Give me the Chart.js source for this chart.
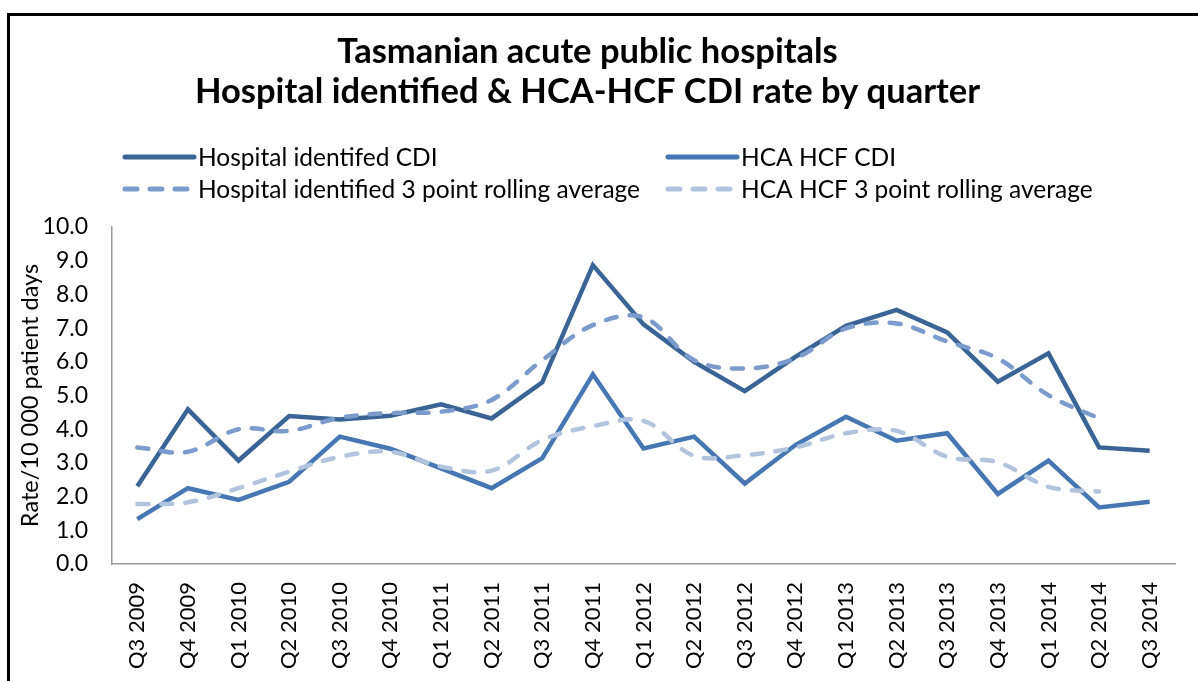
<!DOCTYPE html>
<html>
<head>
<meta charset="utf-8">
<script src="https://cdn.jsdelivr.net/npm/chart.js@4.4.0/dist/chart.umd.min.js"></script>
<style>
  html, body { margin: 0; padding: 0; background: #fff; }
  #wrap { position: relative; width: 1198px; height: 681px; overflow: hidden; }
  #frame { position: absolute; left: 7px; top: 13px; right: -10px; bottom: -10px;
           border-top: 3px solid #000; border-left: 3px solid #000; pointer-events: none; }
</style>
</head>
<body>
<div id="wrap">
  <canvas id="cdiChart" width="1198" height="681"></canvas>
  <div id="frame"></div>
</div>
<script>
const quarters = ['Q3 2009', 'Q4 2009', 'Q1 2010', 'Q2 2010', 'Q3 2010', 'Q4 2010', 'Q1 2011',
    'Q2 2011', 'Q3 2011', 'Q4 2011', 'Q1 2012', 'Q2 2012', 'Q3 2012', 'Q4 2012', 'Q1 2013',
    'Q2 2013', 'Q3 2013', 'Q4 2013', 'Q1 2014', 'Q2 2014', 'Q3 2014'];

const hospitalCdi = [2.31, 4.59, 3.07, 4.39, 4.29, 4.40, 4.74, 4.32, 5.39, 8.87, 7.11,
    6.00, 5.13, 6.15, 7.07, 7.54, 6.87, 5.41, 6.25, 3.46, 3.36];
const hcaHcfCdi = [1.33, 2.25, 1.90, 2.44, 3.78, 3.42, 2.84, 2.25, 3.14, 5.63, 3.43,
    3.78, 2.39, 3.53, 4.37, 3.66, 3.88, 2.08, 3.07, 1.68, 1.85];
const hospitalAvg = [3.46, 3.33, 4.00, 3.95, 4.34, 4.48, 4.52, 4.87, 6.05, 7.09, 7.32,
    6.05, 5.80, 6.10, 6.99, 7.14, 6.60, 6.10, 5.01, 4.32, null];
const hcaHcfAvg = [1.78, 1.83, 2.25, 2.74, 3.18, 3.33, 2.89, 2.77, 3.68, 4.09, 4.25,
    3.21, 3.23, 3.46, 3.88, 3.95, 3.18, 3.02, 2.29, 2.15, null];

const yTicks = [0, 1, 2, 3, 4, 5, 6, 7, 8, 9, 10];

const FONT = 'Lato, "Open Sans", sans-serif';

// legend drawn in two columns like the original
const legendPlugin = {
    id: 'twoColLegend',
    afterDraw(chart) {
        const ctx = chart.ctx;
        const pos = [[122, 157], [665, 157], [122, 189], [665, 189]];
        ctx.save();
        ctx.font = '24.5px ' + FONT;
        ctx.textBaseline = 'middle';
        ctx.fillStyle = '#000';
        chart.data.datasets.forEach(ds => {
            const [x, y] = pos[ds.legendSlot];
            ctx.beginPath();
            ctx.strokeStyle = ds.borderColor;
            ctx.lineWidth = 5;
            ctx.lineCap = 'round';
            ctx.setLineDash(ds.borderDash.length ? [12, 13] : []);
            ctx.moveTo(x + 3, y);
            ctx.lineTo(x + 72, y);
            ctx.stroke();
            ctx.setLineDash([]);
            ctx.fillText(ds.label, x + 76, y + 1);
        });
        ctx.restore();
    }
};

const ctx = document.getElementById('cdiChart').getContext('2d');
const cdiChart = new Chart(ctx, {
    type: 'line',
    data: {
        labels: quarters,
        datasets: [{
            label: 'Hospital identified 3 point rolling average',
            data: hospitalAvg,
            borderColor: '#7a9bcb',
            borderWidth: 4.5,
            borderDash: [11, 13],
            borderCapStyle: 'round',
            tension: 0.35,
            legendSlot: 2
        }, {
            label: 'HCA HCF 3 point rolling average',
            data: hcaHcfAvg,
            borderColor: '#b2c3de',
            borderWidth: 4.5,
            borderDash: [11, 13],
            borderCapStyle: 'round',
            tension: 0.35,
            legendSlot: 3
        }, {
            label: 'Hospital identifed CDI',
            data: hospitalCdi,
            borderColor: '#3a6496',
            borderWidth: 4.5,
            borderDash: [],
            borderJoinStyle: 'miter',
            tension: 0,
            legendSlot: 0
        }, {
            label: 'HCA HCF CDI',
            data: hcaHcfCdi,
            borderColor: '#4677b2',
            borderWidth: 4.5,
            borderDash: [],
            borderJoinStyle: 'miter',
            tension: 0,
            legendSlot: 1
        }]
    },
    options: {
        responsive: false,
        animation: false,
        devicePixelRatio: 1,
        elements: { point: { radius: 0, hoverRadius: 0 } },
        layout: { padding: { left: 0, right: 23, top: 0, bottom: 0 } },
        plugins: {
            legend: { display: false },
            tooltip: { enabled: false },
            title: {
                display: true,
                text: ['Tasmanian acute public hospitals', 'Hospital identified & HCA-HCF CDI rate by quarter'],
                color: '#000',
                font: { family: FONT, size: 34.5, weight: 'bold', lineHeight: 1.16 },
                padding: { top: 32, bottom: 115 }
            }
        },
        scales: {
            y: {
                min: 0,
                max: 10,
                afterBuildTicks: scale => { scale.ticks = yTicks.map(v => ({ value: v })); },
                afterFit: scale => { scale.width = 112; },
                grid: { display: false, drawTicks: false },
                border: { display: true, color: '#9a9a9a', width: 1.5 },
                ticks: {
                    color: '#000',
                    padding: 24,
                    font: { family: FONT, size: 23 },
                    callback: v => v.toFixed(1)
                },
                title: {
                    display: true,
                    text: 'Rate/10 000 patient days',
                    color: '#000',
                    font: { family: FONT, size: 23.5 },
                    padding: { top: 16, bottom: 0 }
                }
            },
            x: {
                offset: true,
                afterFit: scale => { scale.height = 117; },
                grid: { display: false, drawTicks: false, offset: true },
                border: { display: true, color: '#9a9a9a', width: 1.5 },
                ticks: {
                    color: '#000',
                    padding: 18,
                    autoSkip: false,
                    minRotation: 90,
                    maxRotation: 90,
                    font: { family: FONT, size: 22 }
                }
            }
        }
    },
    plugins: [legendPlugin]
});
</script>
</body>
</html>
